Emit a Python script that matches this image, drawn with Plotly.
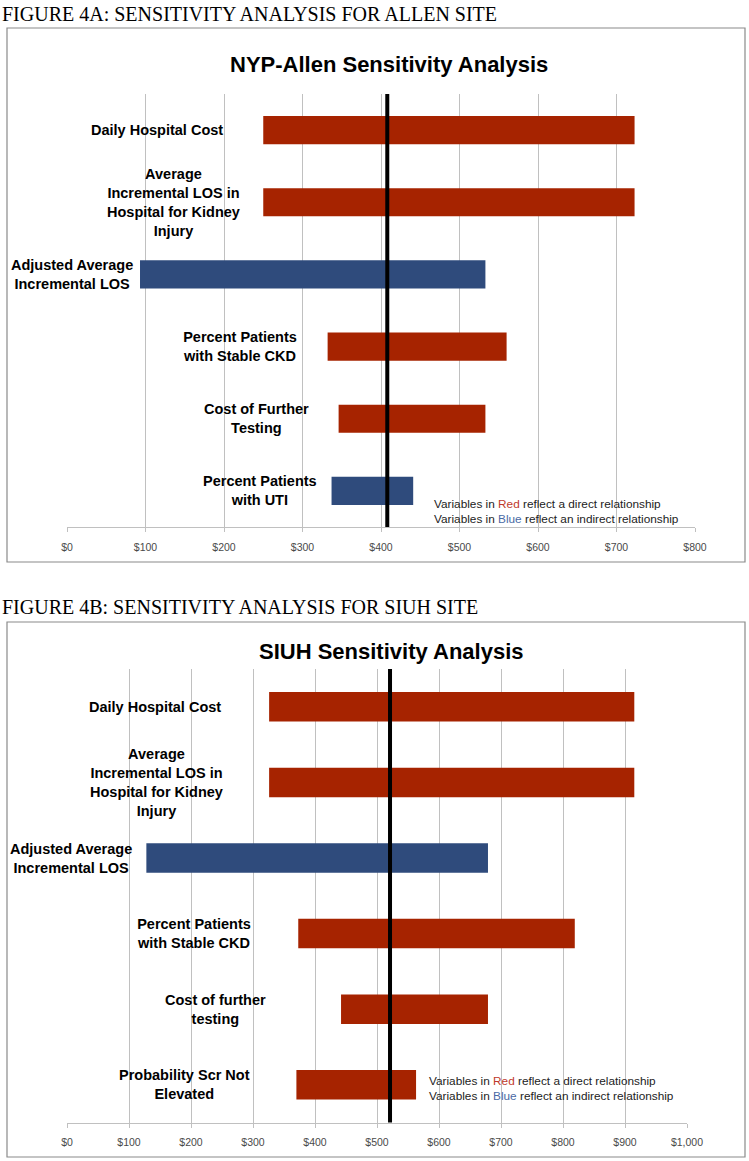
import plotly.graph_objects as go

# ---------------- data ----------------
top_categories = [
    "Daily Hospital Cost",
    "Average<br>Incremental LOS in<br>Hospital for Kidney<br>Injury",
    "Adjusted Average<br>Incremental LOS",
    "Percent Patients<br>with Stable CKD",
    "Cost of Further<br>Testing",
    "Percent Patients<br>with UTI",
]
top_low = [250, 250, 93, 332, 346, 337]
top_high = [723, 723, 533, 560, 533, 441]
top_relation = ["direct", "direct", "indirect", "direct", "direct", "indirect"]
top_baseline = 408

bottom_categories = [
    "Daily Hospital Cost",
    "Average<br>Incremental LOS in<br>Hospital for Kidney<br>Injury",
    "Adjusted Average<br>Incremental LOS",
    "Percent Patients<br>with Stable CKD",
    "Cost of further<br>testing",
    "Probability Scr Not<br>Elevated",
]
bottom_low = [326, 326, 128, 373, 442, 370]
bottom_high = [915, 915, 679, 819, 679, 563]
bottom_relation = ["direct", "direct", "indirect", "direct", "direct", "direct"]
bottom_baseline = 521

top_title = "NYP-Allen Sensitivity Analysis"
bottom_title = "SIUH Sensitivity Analysis"
top_heading = "FIGURE 4A: SENSITIVITY ANALYSIS FOR ALLEN SITE"
bottom_heading = "FIGURE 4B: SENSITIVITY ANALYSIS FOR SIUH SITE"

# ---------------- layout config (positions / styles) ----------------
W, H = 749, 1161
RED = "#A62300"
BLUE = "#2F4B7C"
colors = {"direct": RED, "indirect": BLUE}

top_label_x = [115, 136, 6, 220, 242, 246]
bottom_label_x = [142, 145, 6.5, 205, 240, 190]


def py(p):
    return 1 - p / H


def px(p):
    return p / W


fig = go.Figure()

panels = [
    dict(cats=top_categories, low=top_low, high=top_high, rel=top_relation,
         base=top_baseline, xa="x", ya="y", xmax=800,
         xdom=[px(67), px(695)], ydom=[py(527), py(94)],
         label_x=top_label_x, title=top_title, title_xy=(389, 64),
         heading=top_heading, heading_y=14, frame=(7, 28, 745, 562),
         note_xy=(432, 511)),
    dict(cats=bottom_categories, low=bottom_low, high=bottom_high, rel=bottom_relation,
         base=bottom_baseline, xa="x2", ya="y2", xmax=1000,
         xdom=[px(67), px(687)], ydom=[py(1122.6), py(669)],
         label_x=bottom_label_x, title=bottom_title, title_xy=(392, 651),
         heading=bottom_heading, heading_y=607, frame=(7, 622, 745, 1157),
         note_xy=(427, 1088)),
]

annotations = []
shapes = []
for i, p in enumerate(panels):
    fig.add_trace(go.Bar(
        y=p["cats"],
        x=[h - l for h, l in zip(p["high"], p["low"])],
        base=p["low"],
        orientation="h",
        width=0.39,
        marker=dict(color=[colors[r] for r in p["rel"]], line=dict(width=0)),
        xaxis=p["xa"], yaxis=p["ya"],
        hoverinfo="skip",
    ))
    axis_sfx = "" if i == 0 else "2"
    fig.update_layout(**{
        "xaxis" + axis_sfx: dict(
            domain=p["xdom"], range=[0, p["xmax"]], dtick=100, tick0=0,
            tickprefix="$", tickformat=",d",
            showgrid=True, gridcolor="#C0C0C0", gridwidth=1,
            zeroline=False, showline=True, linecolor="#C0C0C0", linewidth=1,
            ticks="outside", ticklen=4, tickcolor="#C0C0C0",
            ticklabelstandoff=6, automargin=False,
            tickfont=dict(family="Liberation Sans", size=10.5, color="#4A4A4A"),
            anchor="y" + axis_sfx, fixedrange=True,
        ),
        "yaxis" + axis_sfx: dict(
            domain=p["ydom"], categoryorder="array", categoryarray=p["cats"],
            autorange="reversed", showticklabels=False, showgrid=False,
            zeroline=False, showline=False, ticks="", automargin=False,
            anchor="x" + axis_sfx, fixedrange=True,
        ),
    })
    for cat, lx in zip(p["cats"], p["label_x"]):
        annotations.append(dict(
            x=lx, y=cat, xref=p["xa"], yref=p["ya"], text="<b>" + cat + "</b>",
            showarrow=False, xanchor="center", yanchor="middle", align="center",
            font=dict(family="Liberation Sans", size=14.5, color="black"),
        ))
    annotations.append(dict(
        x=px(p["title_xy"][0]), y=py(p["title_xy"][1]), xref="paper", yref="paper",
        text="<b>" + p["title"] + "</b>", showarrow=False,
        xanchor="center", yanchor="middle",
        font=dict(family="Liberation Sans", size=22, color="black"),
    ))
    annotations.append(dict(
        x=0, y=py(p["heading_y"]), xref="paper", yref="paper",
        text=p["heading"], showarrow=False, xanchor="left", yanchor="middle",
        font=dict(family="Liberation Serif", size=20, color="black"),
    ))
    annotations.append(dict(
        x=px(p["note_xy"][0]), y=py(p["note_xy"][1]), xref="paper", yref="paper",
        text=("Variables in <span style='color:#C0392B'>Red</span> reflect a direct relationship<br>"
              "Variables in <span style='color:#4A6AA5'>Blue</span> reflect an indirect relationship"),
        showarrow=False, xanchor="left", yanchor="middle", align="left",
        font=dict(family="Liberation Sans", size=11.8, color="#222222"),
    ))
    shapes.append(dict(
        type="line", xref=p["xa"], yref=p["ya"] + " domain",
        x0=p["base"], x1=p["base"], y0=0, y1=1,
        line=dict(color="black", width=4), layer="above",
    ))
    fx0, fy0, fx1, fy1 = p["frame"]
    shapes.append(dict(
        type="rect", xref="paper", yref="paper",
        x0=px(fx0), x1=px(fx1), y0=py(fy1), y1=py(fy0),
        line=dict(color="#8A8A8A", width=1.2), fillcolor="rgba(0,0,0,0)",
        layer="below",
    ))

fig.update_layout(
    width=W, height=H,
    margin=dict(l=0, r=0, t=0, b=0, pad=0, autoexpand=False),
    paper_bgcolor="white", plot_bgcolor="white",
    showlegend=False, barmode="overlay",
    annotations=annotations, shapes=shapes,
)

fig.write_html(
    "out.html",
    config={"displayModeBar": False},
    post_script="document.body.style.margin='0';document.body.style.overflow='hidden';",
)
